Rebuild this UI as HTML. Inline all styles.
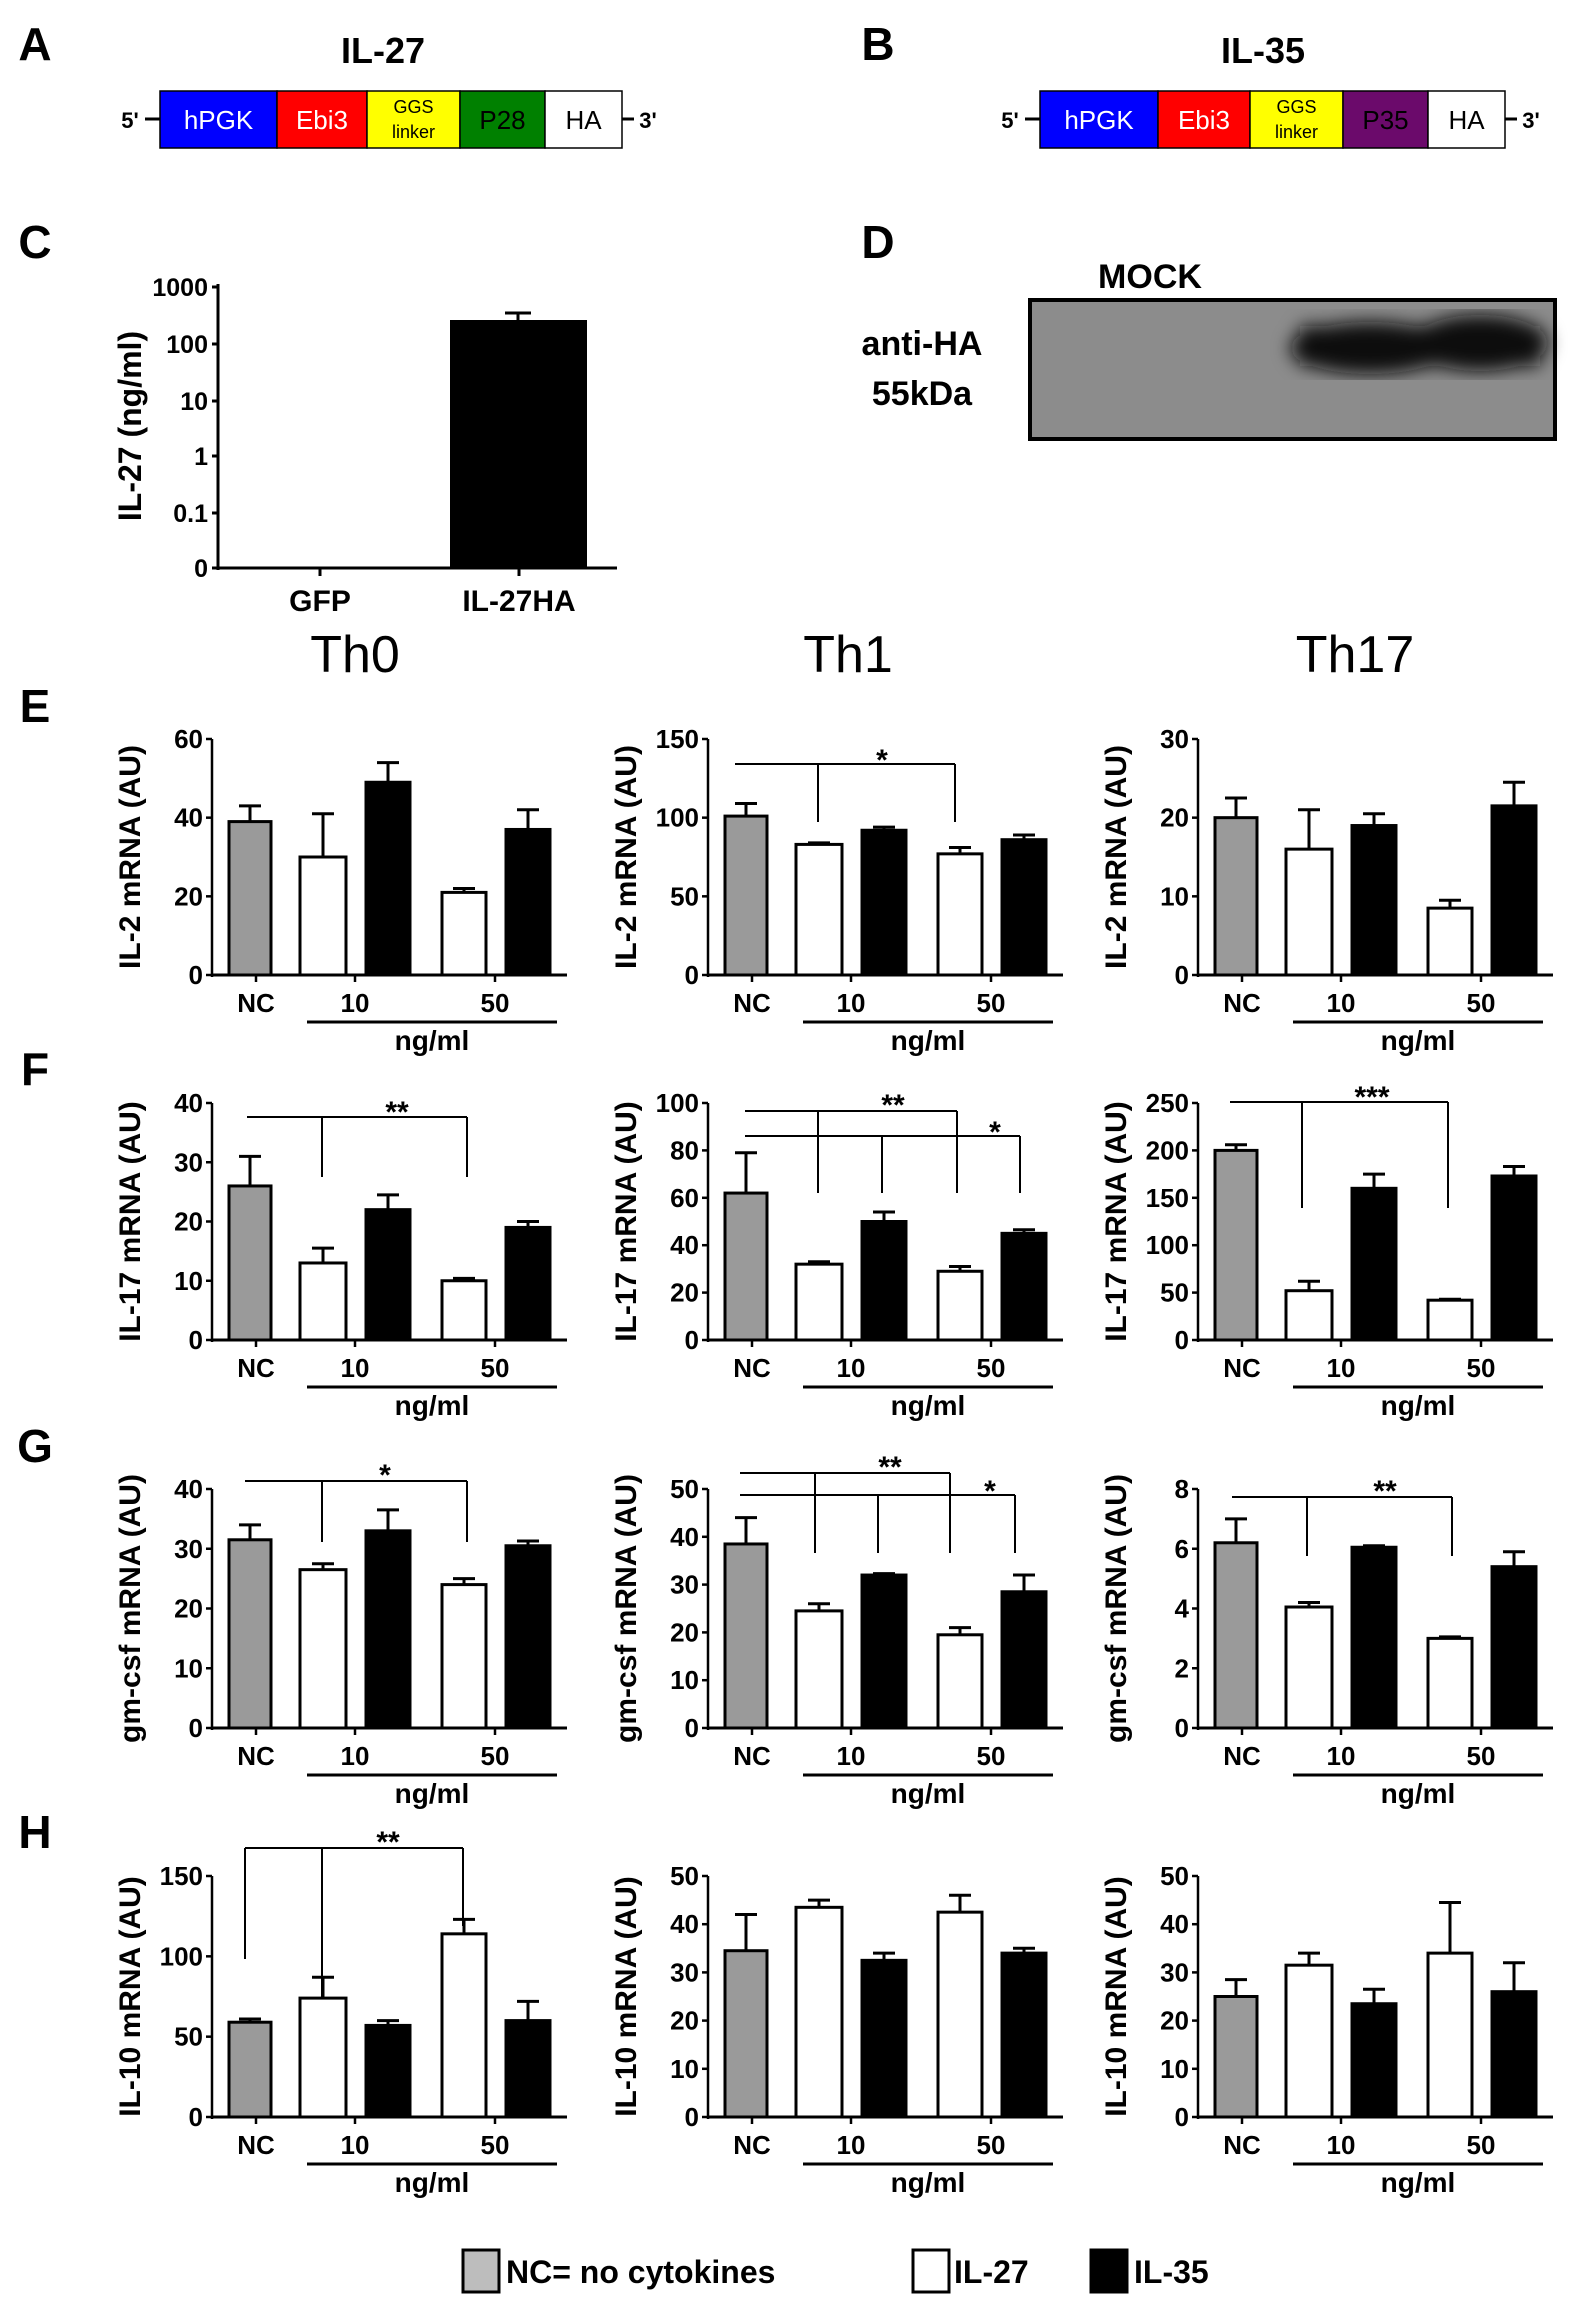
<!DOCTYPE html>
<html><head><meta charset="utf-8"><style>
html,body{margin:0;padding:0;background:#fff;}
svg{display:block;}
text{font-family:"Liberation Sans",Arial,sans-serif;font-weight:bold;fill:#000;}
</style></head><body>
<svg id="s" xmlns="http://www.w3.org/2000/svg" width="1580" height="2300" viewBox="0 0 1580 2300"></svg>
<script>
const s=document.getElementById('s');let h='';
function T(x,y,t,sz,anc,extra){h+=`<text x="${x}" y="${y}" font-size="${sz}" text-anchor="${anc||'middle'}" ${extra||''}>${t}</text>`;}
function L(x1,y1,x2,y2,w){h+=`<line x1="${x1}" y1="${y1}" x2="${x2}" y2="${y2}" stroke="#000" stroke-width="${w||3}"/>`;}
function R(x,y,w,hh,f,sw){h+=`<rect x="${x}" y="${y}" width="${w}" height="${hh}" fill="${f}" stroke="#000" stroke-width="${sw==null?3:sw}"/>`;}
// panel letters
[['A',35,60],['B',878,60],['C',35,258],['D',878,258],['E',35,722],['F',35,1085],['G',35,1462],['H',35,1848]].forEach(a=>T(a[1],a[2],a[0],46));
// constructs
function construct(x0,title,parts){
  T(x0+223,63,title,36,'middle','style="font-weight:bold"');
  const y=91,hh=57;
  T(x0-30,128,"5'",22);L(x0-15,119,x0,119,3);
  parts.forEach(p=>{R(p[0],y,p[1]-p[0],hh,p[2],1.5);
    if(p[3]==='GGS'){T((p[0]+p[1])/2,113,'GGS',18,'middle','style="font-weight:normal" fill="#333"');T((p[0]+p[1])/2,138,'linker',18,'middle','style="font-weight:normal"');}
    else T((p[0]+p[1])/2,129,p[3],26,'middle',`style="font-weight:normal;fill:${p[4]}"`);});
  const xe=parts[parts.length-1][1];L(xe,119,xe+12,119,3);T(xe+26,128,"3'",22);
}
construct(160,'IL-27',[[160,277,'#0000ff','hPGK','#fff'],[277,367,'#ff0000','Ebi3','#fff'],[367,460,'#ffff00','GGS'],[460,545,'#008000','P28','#000'],[545,622,'#fff','HA','#000']]);
construct(1040,'IL-35',[[1040,1158,'#0000ff','hPGK','#fff'],[1158,1250,'#ff0000','Ebi3','#fff'],[1250,1343,'#ffff00','GGS'],[1343,1428,'#6b0a6b','P35','#000'],[1428,1505,'#fff','HA','#000']]);
// C
L(218,284,218,570,3);L(216,568,617,568,3);
[['1000',287],['100',344],['10',401],['1',456],['0.1',513],['0',568]].forEach(t=>{L(212,t[1],218,t[1],3);T(208,t[1]+9,t[0],25,'end');});
R(451,321,135,247,'#000',2);L(518,313,518,321,3);L(505,313,531,313,3);
L(320,568,320,576,3);L(519,568,519,576,3);
T(320,611,'GFP',30);T(519,611,'IL-27HA',30);
T(0,0,'IL-27 (ng/ml)',32,'middle','transform="translate(141,426) rotate(-90)"');
// D
T(1150,288,'MOCK',34);T(922,355,'anti-HA',34);T(922,405,'55kDa',34);
h+=`<defs><filter id="bl"><feGaussianBlur stdDeviation="9"/></filter></defs>`;
R(1030,300,525,139,'#8c8c8c',4);
h+=`<g filter="url(#bl)"><ellipse cx="1370" cy="348" rx="80" ry="26" fill="#111"/><ellipse cx="1480" cy="343" rx="68" ry="28" fill="#111"/><rect x="1300" y="326" width="240" height="40" fill="#111"/></g>`;
// column titles
T(355,672,'Th0',52,'middle','style="font-weight:normal"');T(848,672,'Th1',52,'middle','style="font-weight:normal"');T(1355,672,'Th17',52,'middle','style="font-weight:normal"');
// bar charts
const cols=[212,708,1198];
const rows=[{top:739,bot:975,lab:'IL-2 mRNA (AU)'},{top:1103,bot:1340,lab:'IL-17 mRNA (AU)'},{top:1489,bot:1728,lab:'gm-csf mRNA (AU)'},{top:1876,bot:2117,lab:'IL-10 mRNA (AU)'}];
const data=[
 [[60,20,[[39,4],[30,11],[49,5],[21,1],[37,5]]],[150,50,[[101,8],[83,1],[92,2],[77,4],[86,3]]],[30,10,[[20,2.5],[16,5],[19,1.5],[8.5,1],[21.5,3]]]],
 [[40,10,[[26,5],[13,2.5],[22,2.5],[10,0.4],[19,1]]],[100,20,[[62,17],[32,1],[50,4],[29,2],[45,1.5]]],[250,50,[[200,6],[52,10],[160,15],[42,1],[173,10]]]],
 [[40,10,[[31.5,2.5],[26.5,1],[33,3.5],[24,1],[30.5,0.8]]],[50,10,[[38.5,5.5],[24.5,1.5],[32,0.3],[19.5,1.5],[28.5,3.5]]],[8,2,[[6.2,0.8],[4.05,0.15],[6.05,0.05],[3,0.05],[5.4,0.5]]]],
 [[150,50,[[59,2],[74,13],[57,3],[114,9],[60,12]]],[50,10,[[34.5,7.5],[43.5,1.5],[32.5,1.5],[42.5,3.5],[34,1]]],[50,10,[[25,3.5],[31.5,2.5],[23.5,3],[34,10.5],[26,6]]]]];
const bx=[[17,59,'#9a9a9a'],[88,134,'#fff'],[154,198,'#000'],[230,274,'#fff'],[294,338,'#000']];
rows.forEach((r,ri)=>cols.forEach((ax,ci)=>{
  const [mx,st,vals]=data[ri][ci];const sc=(r.bot-r.top)/mx;
  L(ax,r.top,ax,r.bot+2,2.5);
  for(let v=0;v<=mx+1e-9;v+=st){const y=r.bot-v*sc;L(ax-6,y,ax,y,2.5);T(ax-9,y+9,String(Math.round(v*10)/10),26,'end');}
  vals.forEach((d,i)=>{const b=bx[i];const yt=r.bot-d[0]*sc,ye=r.bot-(d[0]+d[1])*sc,cx=(b[0]+b[1])/2+ax;
    L(cx,ye,cx,yt,3);L(cx-11,ye,cx+11,ye,3);R(ax+b[0],yt,b[1]-b[0],r.bot-yt,b[2],3);});
  L(ax,r.bot,ax+355,r.bot,3);
  [44,143,283].forEach(o=>L(ax+o,r.bot,ax+o,r.bot+7,2.5));
  T(ax+44,r.bot+37,'NC',26);T(ax+143,r.bot+37,'10',26);T(ax+283,r.bot+37,'50',26);
  L(ax+95,r.bot+47,ax+345,r.bot+47,3);T(ax+220,r.bot+75,'ng/ml',28);
  T(0,0,r.lab,30,'middle',`transform="translate(${ax-72},${(r.top+r.bot)/2}) rotate(-90)"`);
}));
// brackets
function br(y,x1,x2,drops,yd,lab,lx,ly){L(x1,y,x2,y,2);drops.forEach(d=>L(d[0],y,d[0],d[1]||yd,2));T(lx,ly,lab,30);}
br(764,735,955,[[818],[955]],822,'*',882,770);
br(1117,247,467,[[322],[467]],1177,'**',397,1122);
br(1111,745,957,[[818],[957]],1193,'**',893,1115);
br(1136,745,1020,[[882],[1020]],1193,'*',995,1142);
br(1102,1230,1448,[[1302],[1448]],1208,'***',1372,1107);
br(1481,245,467,[[322],[467]],1542,'*',385,1485);
br(1473,740,950,[[815],[950]],1553,'**',890,1477);
br(1495,740,1015,[[878],[1015]],1553,'*',990,1501);
br(1497,1232,1452,[[1307],[1452]],1556,'**',1385,1501);
br(1848,245,463,[[245,1959],[322,1998],[463,1926]],0,'**',388,1852);
// legend
R(463,2250,36,42,'#bdbdbd',3);T(506,2283,'NC= no cytokines',32,'start');
R(913,2250,36,42,'#fff',3);T(954,2283,'IL-27',32,'start');
R(1091,2250,36,42,'#000',3);T(1134,2283,'IL-35',32,'start');
s.innerHTML=h;
</script>
</body></html>
